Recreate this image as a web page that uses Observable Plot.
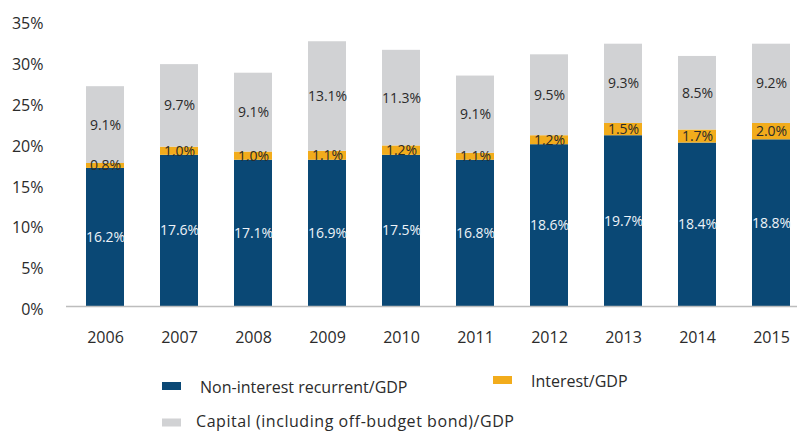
<!DOCTYPE html>
<html>
<head>
<meta charset="utf-8">
<script src="https://cdn.jsdelivr.net/npm/d3@7"></script>
<script src="https://cdn.jsdelivr.net/npm/@observablehq/plot@0.6"></script>
<style>
  html, body { margin: 0; padding: 0; background: #fff; }
  #wrap { position: relative; width: 797px; height: 431px; overflow: hidden; font-family: "Open Sans", sans-serif; }
  #legend { position: absolute; left: 0; top: 0; pointer-events: none; }
</style>
</head>
<body>
<div id="wrap"></div>
<script>
const years = ["2006","2007","2008","2009","2010","2011","2012","2013","2014","2015"];
const seriesNames = ["Non-interest recurrent/GDP", "Interest/GDP", "Capital (including off-budget bond)/GDP"];
const seriesColors = ["#0a4875", "#f2ac1c", "#d1d2d4"];
// bar heights as drawn (% of GDP)
const nonInterest = [16.9, 18.5, 17.9, 17.9, 18.5, 17.9, 19.8, 20.9, 20.0, 20.4];
const interest    = [0.6, 1.0, 1.0, 1.1, 1.15, 0.85, 1.1, 1.5, 1.6, 2.0];
const capital     = [9.4, 10.1, 9.65, 13.4, 11.7, 9.45, 9.9, 9.7, 9.0, 9.7];
// printed data labels
const nonInterestLabels = ["16.2%","17.6%","17.1%","16.9%","17.5%","16.8%","18.6%","19.7%","18.4%","18.8%"];
const interestLabels    = ["0.8%","1.0%","1.0%","1.1%","1.2%","1.1%","1.2%","1.5%","1.7%","2.0%"];
const capitalLabels     = ["9.1%","9.7%","9.1%","13.1%","11.3%","9.1%","9.5%","9.3%","8.5%","9.2%"];
const yTicks = [0, 5, 10, 15, 20, 25, 30, 35];

const valueSets = [nonInterest, interest, capital];
const labelSets = [nonInterestLabels, interestLabels, capitalLabels];
const rows = [];
years.forEach((year, i) => {
  seriesNames.forEach((s, k) => {
    rows.push({year, series: s, value: valueSets[k][i], label: labelSets[k][i], k});
  });
});

const chart = Plot.plot({
  width: 797,
  height: 360,
  marginLeft: 66,
  marginRight: 0,
  marginTop: 20,
  marginBottom: 54,
  style: {fontFamily: "Open Sans, sans-serif", fontSize: "16px", color: "#2b2b2b", background: "#fff"},
  x: {domain: years, range: [66, 810], paddingInner: 0.49, paddingOuter: 0.24, label: null},
  y: {domain: [0, 35], label: null},
  color: {type: "identity"},
  marks: [
    Plot.axisY({ticks: yTicks, tickSize: 0, tickPadding: 23, tickFormat: d => d + "%", fontSize: 16, dy: 3.5}),
    Plot.axisX({tickSize: 0, tickPadding: 25, fontSize: 16}),
    Plot.barY(rows, {x: "year", y: "value", z: "series", fill: d => seriesColors[d.k]}),
    Plot.ruleY([0], {stroke: "#bdbdbd", strokeWidth: 1.5}),
    Plot.text(rows, Plot.stackY({
      x: "year", y: "value", z: "series", text: "label",
      fill: d => d.k === 0 ? "#eef3f8" : "#2b2b2b",
      fontSize: 14
    }))
  ]
});
document.getElementById("wrap").appendChild(chart);

// legend
const legendItems = [
  {k: 0, rx: 162, ry: 382, tx: 200, ty: 392.5, ls: 0},
  {k: 1, rx: 493, ry: 376, tx: 531, ty: 386.5, ls: 0},
  {k: 2, rx: 162, ry: 418.5, tx: 196, ty: 427, ls: 0.55}
];
const leg = d3.select("#wrap").append("svg")
  .attr("id", "legend").attr("width", 797).attr("height", 431);
const g = leg.selectAll("g").data(legendItems).join("g");
g.append("rect").attr("x", d => d.rx).attr("y", d => d.ry).attr("width", 19).attr("height", 8)
  .attr("fill", d => seriesColors[d.k]);
g.append("text").attr("x", d => d.tx).attr("y", d => d.ty)
  .attr("font-family", "Open Sans, sans-serif").attr("font-size", 16).attr("fill", "#2b2b2b")
  .attr("letter-spacing", d => d.ls)
  .text(d => seriesNames[d.k]);
</script>
</body>
</html>
